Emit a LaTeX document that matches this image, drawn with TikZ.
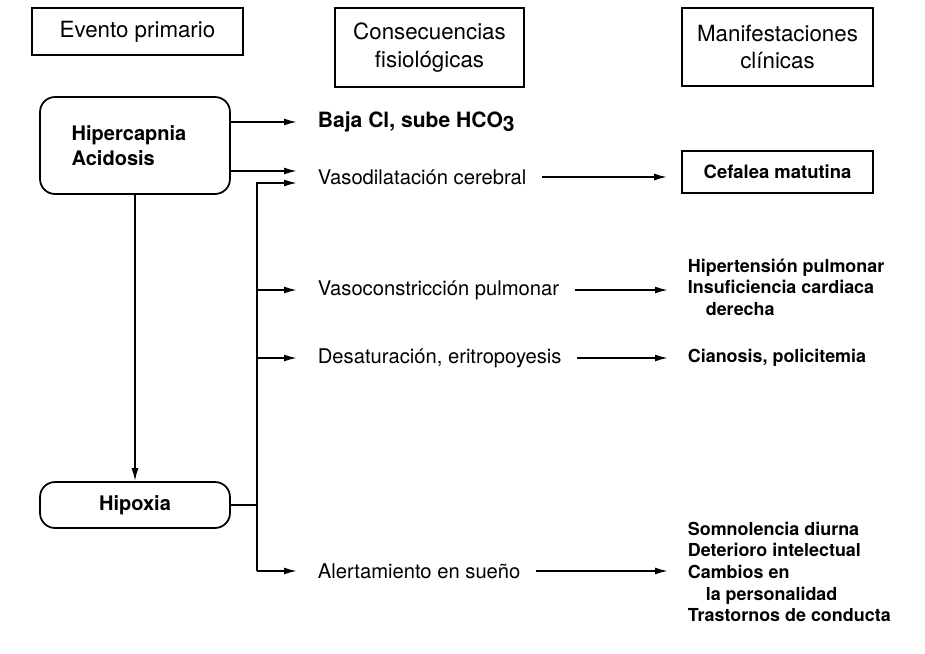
\documentclass[tikz,border=0pt]{standalone}
\usepackage{fontspec}
\setmainfont{TeX Gyre Heros}
\usetikzlibrary{arrows.meta,calc}

\begin{document}
\begin{tikzpicture}[x=0.02cm,y=-0.02cm,line width=1pt,
    arr/.style={-{Latex[length=2.6mm,width=1.4mm]}},
    head/.style={draw,align=center,font=\fontsize{12.7}{15.5}\selectfont},
    rbox/.style={draw,rounded corners=0.3cm,minimum width=3.8cm,font=\bfseries\fontsize{11.4}{14.5}\selectfont},
    cons/.style={anchor=west,inner sep=0pt,font=\fontsize{11.5}{14}\selectfont},
    clin/.style={anchor=west,inner sep=0pt,align=left,font=\bfseries\fontsize{10.2}{12.3}\selectfont}]
  \useasboundingbox (0,0) rectangle (925,653);

  \node[head,minimum width=4.22cm,minimum height=0.94cm] (evento) at (137.5,31.5) {Evento primario};
  \node[head,minimum width=3.78cm,minimum height=1.58cm] (consec) at (429.5,47.5) {Consecuencias\\fisiológicas};
  \node[head,minimum width=3.82cm,minimum height=1.56cm] (manif) at (777.5,47) {Manifestaciones\\clínicas};

  \node[rbox,minimum height=1.94cm,align=left] (hiper) at (135,145.5) {Hipercapnia\hspace*{0.24cm}\\Acidosis};
  \node[rbox,minimum height=0.92cm] (hipox) at (135,505) {Hipoxia};

  \node[cons,font=\bfseries\fontsize{12}{14}\selectfont] (baja) at (317,122) {Baja Cl, sube HCO\raisebox{-.35ex}{3}};
  \node[cons] (vasod) at (317,177) {Vasodilatación cerebral};
  \node[cons] (vasoc) at (317,290) {Vasoconstricción pulmonar};
  \node[cons] (desat) at (317,358) {Desaturación, eritropoyesis};
  \node[cons] (alert) at (317,571) {Alertamiento en sueño};

  \node[draw,minimum width=3.82cm,minimum height=0.84cm,font=\bfseries\fontsize{10.5}{12.3}\selectfont] (cefal) at (777.5,172) {Cefalea matutina};
  \node[clin] (hipert) at (687,287) {Hipertensión pulmonar\\Insuficiencia cardiaca\\\hspace*{1em}derecha};
  \node[clin] (cianos) at (687,358) {Cianosis, policitemia};
  \node[clin] (somno) at (687,572) {Somnolencia diurna\\Deterioro intelectual\\Cambios en\\\hspace*{1em}la personalidad\\Trastornos de conducta};

  \coordinate (trtop) at (257,183);
  \coordinate (trbot) at (257,571);

  % evento primario -> consecuencias
  \draw[arr,shorten >=0.4cm] (hiper.east |- baja.west) -- (baja.west);
  \draw[arr,shorten >=0.4cm] ($(hiper.east |- vasod.west)+(0,-6)$) -- ($(vasod.west)+(0,-6)$);
  \draw[arr] (hiper) -- (hipox);
  \draw (hipox.east) -- (hipox.east -| trtop);
  \draw[arr,shorten >=0.4cm] (trbot) -- (trtop) -- (trtop -| vasod.west);
  \draw[arr,shorten >=0.4cm] (trtop |- vasoc.west) -- (vasoc.west);
  \draw[arr,shorten >=0.4cm] (trtop |- desat.west) -- (desat.west);
  \draw[arr,shorten >=0.4cm] (trbot) -- (alert.west);

  % consecuencias -> manifestaciones
  \draw[arr,shorten <=0.3cm,shorten >=0.28cm] (vasod.east) -- (vasod.east -| cefal.west);
  \draw[arr,shorten <=0.3cm,shorten >=0.38cm] (vasoc.east) -- (vasoc.east -| hipert.west);
  \draw[arr,shorten <=0.3cm,shorten >=0.38cm] (desat.east) -- (desat.east -| cianos.west);
  \draw[arr,shorten <=0.3cm,shorten >=0.38cm] (alert.east) -- (alert.east -| somno.west);
\end{tikzpicture}
\end{document}
